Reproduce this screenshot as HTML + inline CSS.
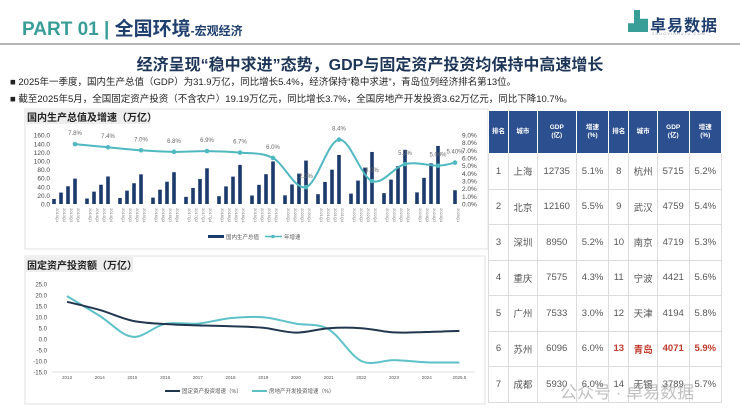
<!DOCTYPE html>
<html><head><meta charset="utf-8"><style>
*{margin:0;padding:0;box-sizing:border-box}
body{width:740px;height:417px;background:#fff;font-family:"Liberation Sans","Noto Sans CJK SC",sans-serif;position:relative;overflow:hidden}
.abs{position:absolute}
table{border-collapse:collapse;position:absolute;left:488px;top:110px;width:234px;font-size:9.5px;color:#555}
td{border:1px solid #dcdcdc;text-align:center;height:35.5px;padding:0}
th{background:#2c4f8f;color:#fff;font-size:6.5px;font-weight:bold;height:43px;border:1px solid #fff;line-height:1.3}
</style></head><body>
<div class="abs" style="left:22px;top:14px;font-size:19px;font-weight:bold;color:#3a9e98;white-space:nowrap">PART 01 | <span style="color:#1f3f6e">全国环境</span><span style="color:#1f3f6e;font-size:12px">-宏观经济</span></div>
<div class="abs" style="left:628px;top:10px;width:20px;height:22px;background:#3a9e98;clip-path:polygon(30% 0,60% 0,60% 40%,100% 40%,100% 100%,0 100%,0 60%,30% 60%)"></div>
<div class="abs" style="left:650px;top:12px;font-size:16px;font-weight:bold;color:#1f3f6e;letter-spacing:1px">卓易数据</div>
<div class="abs" style="left:652px;top:31px;font-size:4px;color:#999;letter-spacing:1px">ZHUOYISHUJU.COM</div>
<div class="abs" style="left:0;top:43px;width:740px;height:1.5px;background:#b5b5b5"></div>
<div class="abs" style="left:0;top:51px;width:740px;text-align:center;font-size:16px;font-weight:bold;color:#1d3557">经济呈现“稳中求进”态势，GDP与固定资产投资均保持中高速增长</div>
<div class="abs" style="left:10px;top:74px;font-size:9.5px;color:#222;white-space:nowrap">■ 2025年一季度，国内生产总值（GDP）为31.9万亿，同比增长5.4%，经济保持“稳中求进”，青岛位列经济排名第13位。</div>
<div class="abs" style="left:10px;top:91px;font-size:9.5px;color:#222;white-space:nowrap">■ 截至2025年5月，全国固定资产投资（不含农户）19.19万亿元，同比增长3.7%，全国房地产开发投资3.62万亿元，同比下降10.7%。</div>
<svg class="abs" style="left:0;top:0" width="740" height="417" font-family="Liberation Sans,Noto Sans CJK SC,sans-serif">
<rect x="25" y="109" width="463" height="140" fill="none" stroke="#e0e0e0"/>
<rect x="25" y="110" width="125" height="14" fill="#eeeeee"/>
<text x="27" y="121" font-size="10" font-weight="bold" fill="#222">国内生产总值及增速（万亿）</text>
<rect x="25" y="256" width="460" height="148" fill="none" stroke="#e0e0e0"/>
<rect x="25" y="257" width="108" height="15" fill="#eeeeee"/>
<text x="27" y="269" font-size="10" font-weight="bold" fill="#222">固定资产投资额（万亿）</text>
<g id="g"></g>
</svg>
<table>
<tr><th>排名</th><th>城市</th><th>GDP<br>(亿)</th><th>增速<br>(%)</th><th>排名</th><th>城市</th><th>GDP<br>(亿)</th><th>增速<br>(%)</th></tr>
<tr><td>1</td><td>上海</td><td>12735</td><td>5.1%</td><td>8</td><td>杭州</td><td>5715</td><td>5.2%</td></tr>
<tr><td>2</td><td>北京</td><td>12160</td><td>5.5%</td><td>9</td><td>武汉</td><td>4759</td><td>5.4%</td></tr>
<tr><td>3</td><td>深圳</td><td>8950</td><td>5.2%</td><td>10</td><td>南京</td><td>4719</td><td>5.3%</td></tr>
<tr><td>4</td><td>重庆</td><td>7575</td><td>4.3%</td><td>11</td><td>宁波</td><td>4421</td><td>5.6%</td></tr>
<tr><td>5</td><td>广州</td><td>7533</td><td>3.0%</td><td>12</td><td>天津</td><td>4194</td><td>5.8%</td></tr>
<tr><td>6</td><td>苏州</td><td>6096</td><td>6.0%</td><td style="color:#c0392b;font-weight:bold">13</td><td style="color:#c0392b;font-weight:bold">青岛</td><td style="color:#c0392b;font-weight:bold">4071</td><td style="color:#c0392b;font-weight:bold">5.9%</td></tr>
<tr><td>7</td><td>成都</td><td>5930</td><td>6.0%</td><td>14</td><td>无锡</td><td>3789</td><td>5.7%</td></tr>
</table>
<div class="abs" style="left:560px;top:378px;font-size:17px;color:rgba(150,150,150,.6);white-space:nowrap">公众号 · 卓易数据</div>
<script>
var s='';
function sm(p){var d='M'+p[0][0]+','+p[0][1];for(var i=0;i<p.length-1;i++){var a=p[i-1]||p[i],b=p[i],c=p[i+1],e=p[i+2]||c;d+=' C'+(b[0]+(c[0]-a[0])/6)+','+(b[1]+(c[1]-a[1])/6)+' '+(c[0]-(e[0]-b[0])/6)+','+(c[1]-(e[1]-b[1])/6)+' '+c[0]+','+c[1];}return d;}
for(var i=0;i<=8;i++){var y=204-i*8.6;s+='<text x="50" y="'+(y+2.5)+'" font-size="6.5" fill="#444" text-anchor="end">'+(i*20).toFixed(1)+'</text>';}
for(var i=0;i<=9;i++){var y=204-i*7.67;s+='<text x="462" y="'+(y+2.5)+'" font-size="6.5" fill="#444">'+i.toFixed(1)+'%</text>';}
var q4=[59,64,69,74,83,91,99,101,114,121,126,135],fr=[.2,.45,.7,1];
var gr=[7.8,7.4,7.0,6.8,6.9,6.7,6.0,2.2,8.4,3.0,5.2,5.0,5.4],pts=[];
for(var g=0;g<12;g++){for(var k=0;k<4;k++){var x=54+g*33+k*7,v=q4[g]*fr[k],h=v*0.43;s+='<rect x="'+(x-1.8)+'" y="'+(204-h)+'" width="3.6" height="'+h+'" fill="#1c3a6b"/>';
var yr=2013+g;s+='<text transform="translate('+(x+2)+',208) rotate(90)" font-size="4" fill="#777">'+yr+'Q'+(k+1)+'</text>';}
pts.push([75+g*33,204-gr[g]*7.67]);}
s+='<rect x="453.2" y="'+(204-32*.43)+'" width="3.6" height="'+(32*.43)+'" fill="#1c3a6b"/><text transform="translate(457,208) rotate(90)" font-size="4" fill="#777">2025Q1</text>';
pts.push([455,204-5.4*7.67]);
s+='<path d="'+sm(pts)+'" fill="none" stroke="#4fb8c0" stroke-width="2"/>';
var lb=['7.8%','7.4%','7.0%','6.8%','6.9%','6.7%','6.0%','2.2%','8.4%','3.0%','5.2%','5.00%','5.40%'];
pts.forEach(function(p,i){s+='<circle cx="'+p[0]+'" cy="'+p[1]+'" r="2.3" fill="#4fb8c0"/><text x="'+p[0]+'" y="'+(p[1]-9)+'" font-size="6" fill="#666" text-anchor="middle">'+lb[i]+'</text>';});
s+='<rect x="208" y="235" width="16" height="3" fill="#1c3a6b"/><text x="226" y="239" font-size="5.5" fill="#555">国内生产总值</text><line x1="265" y1="236.5" x2="282" y2="236.5" stroke="#4fb8c0" stroke-width="1.5"/><circle cx="273" cy="236.5" r="1.8" fill="#4fb8c0"/><text x="284" y="239" font-size="5.5" fill="#555">年增速</text>';
for(var i=0;i<=8;i++){var v=25-i*5,y=339-v*2.2;s+='<text x="47" y="'+(y+2.5)+'" font-size="6" fill="#444" text-anchor="end">'+v.toFixed(1)+'</text>';}
s+='<line x1="52" y1="372" x2="475" y2="372" stroke="#ddd"/>';
var yrs=['2013','2014','2015','2016','2017','2018','2019','2020','2021','2022','2023','2024','2025.5'];
var fa=[16.9,13.2,8.3,6.8,6.2,5.8,5.1,2.9,4.9,4.9,3.0,3.2,3.7],re=[19.5,10.5,1.0,6.9,7.0,9.5,9.9,7.0,4.4,-10,-9.6,-10.6,-10.7];
var p1=[],p2=[];
yrs.forEach(function(t,i){var x=67+i*32.7;s+='<text x="'+x+'" y="379" font-size="4.5" fill="#555" text-anchor="middle">'+t+'</text>';p1.push([x,339-fa[i]*2.2]);p2.push([x,339-re[i]*2.2]);});
s+='<path d="'+sm(p2)+'" fill="none" stroke="#5cc2c8" stroke-width="2"/><path d="'+sm(p1)+'" fill="none" stroke="#22374f" stroke-width="2"/>';
s+='<line x1="165" y1="391" x2="180" y2="391" stroke="#22374f" stroke-width="2"/><text x="182" y="393" font-size="5.5" fill="#555">固定资产投资增速（%）</text><line x1="252" y1="391" x2="267" y2="391" stroke="#5cc2c8" stroke-width="2"/><text x="269" y="393" font-size="5.5" fill="#555">房地产开发投资增速（%）</text>';
document.getElementById('g').innerHTML=s;
</script>
</body></html>
